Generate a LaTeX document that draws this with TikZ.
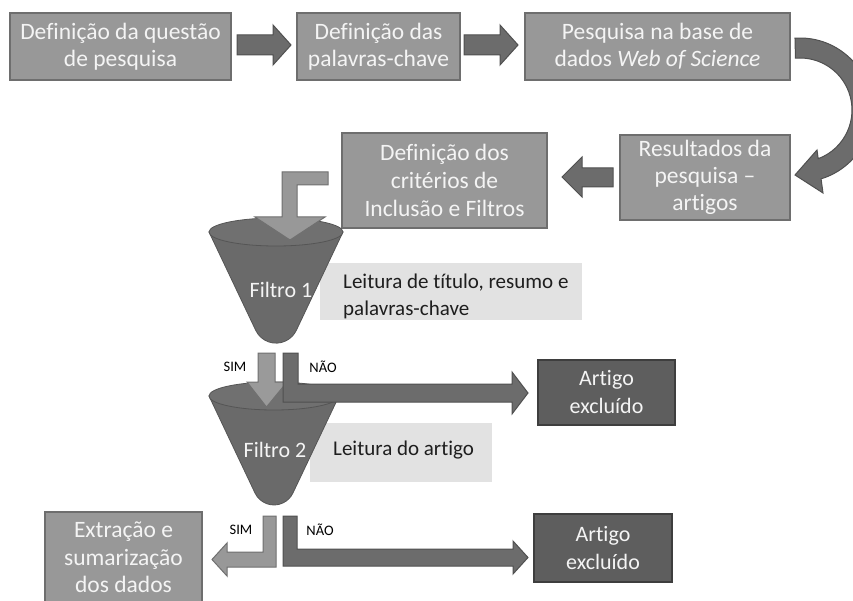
\documentclass[tikz,border=0pt]{standalone}
\usepackage{fontspec}
\setmainfont[Ligatures=CommonOff]{Carlito}
\usetikzlibrary{calc}
\definecolor{boxfill}{HTML}{989898}
\definecolor{boxline}{HTML}{6E6E6E}
\definecolor{arrfill}{HTML}{6C6C6C}
\definecolor{arrline}{HTML}{505050}
\definecolor{darkfill}{HTML}{5E5E5E}
\definecolor{darkline}{HTML}{3E3E3E}
\definecolor{lightfill}{HTML}{E2E2E2}
\definecolor{simfill}{HTML}{9A9A9A}
\definecolor{simline}{HTML}{707070}
\definecolor{funfill}{HTML}{6A6A6A}
\definecolor{funline}{HTML}{555555}
\definecolor{funtop}{HTML}{707070}
\definecolor{txtwhite}{HTML}{F4F4F4}
\definecolor{txtdark}{HTML}{1E1E1E}
\begin{document}
\begin{tikzpicture}[x=1pt,y=-1pt,
  procbox/.style={draw=boxline, line width=1.3pt, fill=boxfill, text=txtwhite, align=center, inner sep=0pt, font=\fontsize{23.5}{27}\selectfont},
  darkbox/.style={procbox, draw=darkline, fill=darkfill, font=\fontsize{22}{28}\selectfont},
  blockarrow/.style={draw=arrline, line width=1pt, fill=arrfill, line join=miter},
  simarrow/.style={blockarrow, draw=simline, fill=simfill},
  lightbox/.style={fill=lightfill, draw=none, inner sep=0pt},
  lighttxt/.style={text=txtdark, align=left, inner sep=0pt, font=\fontsize{21}{27}\selectfont, anchor=west},
  funnel/.style={fill=funfill, draw=funline, line width=0.8pt},
  funneltop/.style={fill=funtop, draw=funline, line width=0.8pt},
  whitetxt/.style={text=txtwhite, inner sep=0pt, font=\fontsize{22}{26}\selectfont},
  yesno/.style={text=black, inner sep=0pt, font=\fontsize{14.5}{17}\selectfont}
]
\path[use as bounding box, fill=white] (0,0) rectangle (853,601);
\clip (0,0) rectangle (853,601);

% process boxes
\node[procbox, minimum width=221pt, minimum height=67pt] (b1) at (120.5,46.5) {Definição da questão\\de pesquisa};
\node[procbox, minimum width=163pt, minimum height=67pt] (b2) at (378.5,46.5) {Definição das\\palavras-chave};
\node[procbox, minimum width=265pt, minimum height=67pt] (b3) at (657.5,46.5) {Pesquisa na base de\\dados \textit{Web of Science}};
\node[procbox, minimum width=170pt, minimum height=85pt] (b4) at (705,177.5) {Resultados da\\pesquisa –\\artigos};
\node[procbox, minimum width=205pt, minimum height=95pt, font=\fontsize{23.5}{28}\selectfont] (b5) at (444.5,180.5) {Definição dos\\critérios de\\Inclusão e Filtros};
\node[procbox, minimum width=157pt, minimum height=91pt, font=\fontsize{23.5}{27.5}\selectfont] (b6) at (123.5,557.5) {Extração e\\sumarização\\dos dados};
\node[darkbox, minimum width=137pt, minimum height=65pt] (ex1) at (606.5,392.5) {Artigo\\excluído};
\node[darkbox, minimum width=138pt, minimum height=68pt] (ex2) at (603,548) {Artigo\\excluído};

% straight block arrows
\draw[blockarrow] (237,35) -- (273,35) -- (273,25) -- (291,45) -- (273,65) -- (273,55) -- (237,55) -- cycle;
\draw[blockarrow] (464,35) -- (500,35) -- (500,25) -- (518,45) -- (500,65) -- (500,55) -- (464,55) -- cycle;
\draw[blockarrow] (613,168) -- (582,168) -- (582,157) -- (562,177) -- (582,197) -- (582,187) -- (613,187) -- cycle;

% curved arrow
\coordinate (cc) at (800,110);
\draw[blockarrow] ($(cc)+(-94:72)$) arc[start angle=-94, end angle=73, radius=72]
  -- (823,193) -- (795,175) -- (817,150) -- ($(cc)+(69.5:52)$)
  arc[start angle=69.5, end angle=-95, radius=52] -- cycle;

% light description boxes
\node[lightbox, minimum width=262pt, minimum height=57pt] (l1) at (451,291.5) {};
\node[lightbox, minimum width=182pt, minimum height=59pt] (l2) at (401,452.5) {};
\node[lighttxt] (t1) at (343,296.5) {Leitura de título, resumo e\\palavras-chave};
\node[lighttxt] (t2) at (333,450) {Leitura do artigo};

% funnel 1
\draw[funnel] (209,232) -- (255.7,330.3) arc[start angle=154.6, end angle=25.4, radius=22.5] -- (343,232) -- cycle;
\draw[funneltop] (276,232) ellipse [x radius=67, y radius=14];
\node[whitetxt] (f1) at (281,290) {Filtro 1};

% funnel 2
\draw[funnel] (209,396) -- (255,493) arc[start angle=154.6, end angle=25.4, radius=21] -- (339,396) -- cycle;
\draw[funneltop] (274,396) ellipse [x radius=65, y radius=14];
\node[whitetxt] (f2) at (275,450) {Filtro 2};

% bent arrow into funnel 1
\draw[simarrow, fill=boxfill] (328,172) -- (282,172) -- (282,217) -- (255,217) -- (290,240) -- (325,217) -- (297,217) -- (297,185) -- (328,185) -- cycle;

% SIM / NAO after filter 1
\draw[simarrow] (258,353) -- (275,353) -- (275,382) -- (287,382) -- (266.5,407) -- (247,382) -- (258,382) -- cycle;
\draw[blockarrow] (283,353) -- (298,353) -- (298,384) -- (512,384) -- (512,372) -- (528,393) -- (512,414) -- (512,402) -- (283,402) -- cycle;
\node[yesno] (s1) at (235,367) {SIM};
\node[yesno] (n1) at (323,367) {NÃO};

% SIM / NAO after filter 2
\draw[simarrow, fill=boxfill] (263,516) -- (276,516) -- (276,567) -- (227,567) -- (227,576) -- (212,559.5) -- (227,543) -- (227,552) -- (263,552) -- cycle;
\draw[blockarrow] (283,516) -- (297,516) -- (297,549) -- (513,549) -- (513,541) -- (528,557.5) -- (513,574) -- (513,566) -- (283,566) -- cycle;
\node[yesno] (s2) at (241,530) {SIM};
\node[yesno] (n2) at (320,530) {NÃO};
\end{tikzpicture}
\end{document}
